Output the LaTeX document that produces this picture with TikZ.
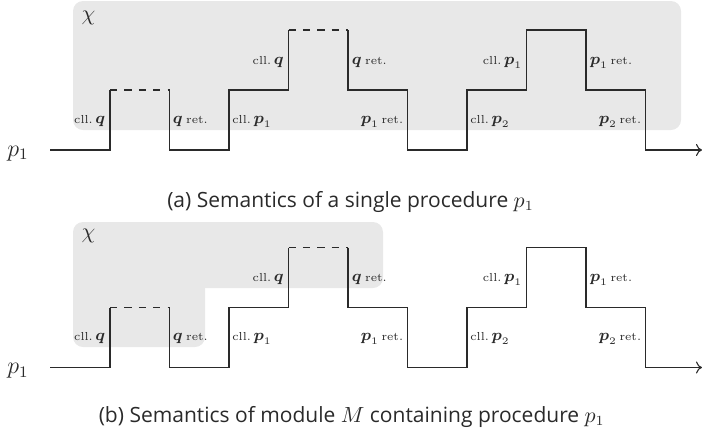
\documentclass[tikz,border=0pt]{standalone}
\usepackage{amsmath}
\usepackage{fontspec}
\usetikzlibrary{arrows.meta}
\newfontfamily\capfont{Open Sans}
\definecolor{boxgray}{HTML}{E8E8E8}
\definecolor{inkc}{HTML}{2A2A2A}
\newcommand{\mycll}[2]{{\fontsize{5.8}{6}\selectfont cll.}\,$\boldsymbol{#1}_{#2}$}
\newcommand{\myret}[2]{$\boldsymbol{#1}_{#2}$\,{\fontsize{5.8}{6}\selectfont ret.}}
\tikzset{
  stepline/.style={line width=0.55pt, draw=inkc},
  dashseg/.style={stepline, dash pattern=on 3.6pt off 3.6pt},
  lbl/.style={font=\fontsize{7.6}{8}\selectfont, inner sep=0pt, text=inkc},
  plabel/.style={font=\fontsize{12}{14}\selectfont, inner sep=0pt, text=inkc},
  capt/.style={font=\capfont\fontsize{10.5}{12}\selectfont, inner sep=0pt, text=inkc},
  graybox/.style={fill=boxgray, rounded corners=5pt},
}
\newcommand{\drawsteps}[1]{%
  \draw[stepline] (50,150) -- (110,150) -- (110,90);
  \draw[dashseg] (110,90) -- (169.5,90);
  \draw[stepline] (169.5,90) -- (169.5,150) -- (229,150) -- (229,90) -- (288.5,90) -- (288.5,30);
  \draw[dashseg] (288.5,30) -- (348,30);
  \draw[stepline,-{To[length=3pt,width=6pt]}] (348,30) -- (348,90) -- (407.5,90) -- (407.5,150) -- (467,150) -- (467,90) -- (526.5,90) -- (526.5,30) -- (586,30) -- (586,90) -- (645.5,90) -- (645.5,150) -- (702,150);
  \node[lbl,anchor=base east] (#1l1) at (106.5,123) {\mycll{q}{}};
  \node[lbl,anchor=base west] (#1l2) at (172.5,123) {\myret{q}{}};
  \node[lbl,anchor=base west] (#1l3) at (232,123) {\mycll{p}{1}};
  \node[lbl,anchor=base east] (#1l4) at (285,64) {\mycll{q}{}};
  \node[lbl,anchor=base west] (#1l5) at (351.5,64) {\myret{q}{}};
  \node[lbl,anchor=base east] (#1l6) at (403.5,123) {\myret{p}{1}};
  \node[lbl,anchor=base west] (#1l7) at (470,123) {\mycll{p}{2}};
  \node[lbl,anchor=base east] (#1l8) at (522.5,64) {\mycll{p}{1}};
  \node[lbl,anchor=base west] (#1l9) at (589.5,64) {\myret{p}{1}};
  \node[lbl,anchor=base east] (#1l10) at (641.5,123) {\myret{p}{2}};
  \node[plabel,anchor=base] (#1p) at (18,156) {$p_1$};
}
\begin{document}
\begin{tikzpicture}[x=0.5pt,y=-0.5pt]
  \useasboundingbox (0,0) rectangle (702,435);
  % (a)
  \fill[graybox] (73,1) rectangle (681,130);
  \node[plabel,font=\fontsize{10.5}{12}\selectfont] (chia) at (88.5,18) {$\chi$};
  \drawsteps{a}
  \node[capt,anchor=base] (capa) at (350.5,207.3) {(a) Semantics of a single procedure $p_1$};
  % (b)
  \begin{scope}[shift={(0,217.5)}]
    \fill[graybox] (73,4.5) rectangle (383,70.5);
    \fill[graybox] (73,50) rectangle (205,129.5);
    \node[plabel,font=\fontsize{10.5}{12}\selectfont] (chib) at (88.5,18) {$\chi$};
    \drawsteps{b}
  \end{scope}
  \node[capt,anchor=base] (capb) at (351.7,422.7) {(b) Semantics of module $M$ containing procedure $p_1$};
\end{tikzpicture}
\end{document}
